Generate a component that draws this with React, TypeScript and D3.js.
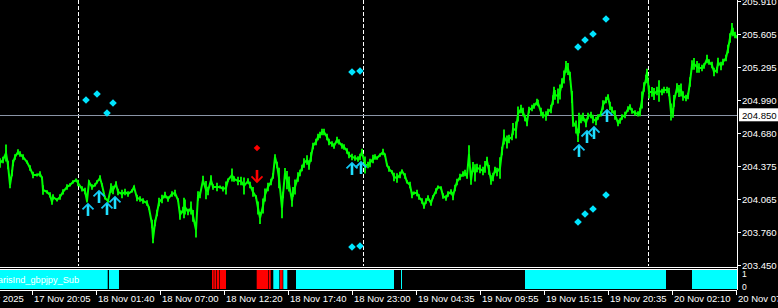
import React from "react";
import * as d3 from "d3";

const W = 778;
const H = 308;

// price series (bar index -> close)
const priceBars = [
  0, 3, 6, 8, 10, 12, 13, 15, 18, 20, 23, 27, 30, 33, 37, 40, 42, 43, 47, 50, 52, 53, 57, 60, 63, 67, 70, 73, 76, 78,
  82, 85, 87, 89, 92, 95, 97, 100, 102, 105, 108, 111, 113, 116, 118, 122, 125, 128, 132, 134, 137, 140, 143, 147, 149,
  152, 153, 155, 157, 159, 162, 165, 168, 172, 175, 178, 180, 183, 184,
  185, 188, 191, 193, 196, 198, 200, 203, 206, 208, 211, 213, 217, 220, 223, 226, 228, 232, 234, 238, 241, 244, 248,
  250, 253, 256, 258, 260, 263, 265, 268, 271, 273, 275, 277, 279, 282, 283, 285, 287, 289, 292, 293, 295, 298, 300,
  302, 304, 307, 309, 311, 313, 316, 318, 320, 322, 324, 327, 329, 332, 334, 337, 339, 342, 344, 347, 349, 352, 355,
  358, 360, 362, 365, 368,
  370, 373, 375, 377, 380, 383, 385, 387, 389, 392, 394, 397, 400, 402, 405, 407, 410, 412, 414, 417, 419, 422, 424,
  426, 428, 431, 433, 436, 438, 441, 443, 446, 448, 451, 453, 455, 457, 460, 463, 465, 467, 469, 471, 473, 475, 477,
  480, 483, 485, 487, 489, 491, 493, 495, 497, 500, 502, 504, 507, 509, 512, 513, 516, 518, 521, 523, 525, 527, 529,
  532, 534, 537, 538, 541, 543, 546, 548, 551, 553, 554,
  555, 558, 560, 562, 564, 566, 568, 570, 572, 573, 576, 578, 579, 581, 583, 586, 588, 591, 593, 596, 598, 601, 603,
  606, 608, 610, 612, 615, 618, 620, 622, 625, 628, 630, 632, 635, 638, 640, 642, 644, 646, 647, 649, 652, 654, 657,
  659, 662, 664, 667, 669, 671, 673, 674, 677, 679, 681, 683, 686, 688, 690, 692, 694, 697, 699, 702, 704, 707, 709,
  712, 714, 717, 718, 721, 723, 726, 728, 730, 732, 733, 735, 737,
];
const priceValues = [
  204.401, 204.429, 204.494, 204.382, 204.196, 204.308, 204.401, 204.457, 204.503, 204.485, 204.457, 204.41, 204.354,
  204.289, 204.289, 204.298, 204.261, 204.149, 204.131, 204.103, 204.037, 204.084, 204.056, 204.084, 204.131, 204.177,
  204.196, 204.224, 204.242, 204.214, 204.159, 204.14, 204.047, 204.224, 204.177, 204.196, 204.224, 204.261, 204.196,
  204.075, 204.047, 204.168, 204.149, 204.205, 204.131, 204.112, 204.131, 204.112, 204.14, 204.177, 204.075, 204.065,
  204.047, 204.028, 203.981, 203.832, 203.693, 203.842, 203.935, 204.037, 204.065, 204.103, 204.065, 204.112, 204.121,
  204.056, 203.916, 203.963, 203.981,
  203.991, 203.944, 203.981, 203.907, 203.776, 204.093, 204.103, 204.242, 204.149, 204.14, 204.242, 204.177, 204.177,
  204.177, 204.159, 204.168, 204.242, 204.289, 204.252, 204.233, 204.233, 204.186, 204.233, 204.196, 204.131, 204.084,
  203.981, 203.888, 204.0, 204.103, 204.177, 204.224, 204.28, 204.457, 204.382, 204.261, 203.981, 204.103, 204.308,
  204.242, 204.205, 204.047, 204.131, 204.177, 204.27, 204.308, 204.354, 204.401, 204.429, 204.382, 204.457, 204.559,
  204.597, 204.643, 204.662, 204.69, 204.69, 204.643, 204.597, 204.578, 204.559, 204.615, 204.597, 204.559, 204.55,
  204.513, 204.475, 204.457, 204.447, 204.438, 204.457, 204.503, 204.382, 204.382,
  204.401, 204.438, 204.457, 204.447, 204.475, 204.503, 204.475, 204.382, 204.345, 204.317, 204.27, 204.261, 204.289,
  204.326, 204.28, 204.224, 204.196, 204.103, 204.121, 204.121, 204.084, 204.047, 204.0, 204.047, 204.075, 204.028,
  204.084, 204.14, 204.177, 204.168, 204.093, 204.075, 204.112, 204.131, 204.093, 204.168, 204.224, 204.27, 204.298,
  204.308, 204.28, 204.485, 204.242, 204.364, 204.308, 204.354, 204.345, 204.326, 204.364, 204.419, 204.336, 204.242,
  204.27, 204.336, 204.317, 204.354, 204.513, 204.643, 204.597, 204.625, 204.643, 204.718, 204.708, 204.858, 204.904,
  204.876, 204.82, 204.783, 204.895, 204.913, 204.932, 204.969, 204.96, 204.876, 204.848, 204.839, 204.876, 204.904,
  204.988, 205.072,
  205.035, 205.025, 205.063, 205.146, 205.202, 205.296, 205.277, 205.212, 205.016, 204.783, 204.736, 204.652, 204.774,
  204.811, 204.83, 204.774, 204.839, 204.848, 204.811, 204.792, 204.83, 204.858, 204.941, 204.988, 205.016, 204.932,
  204.895, 204.848, 204.774, 204.792, 204.83, 204.848, 204.904, 204.923, 204.885, 204.867, 204.858, 204.876, 204.988,
  205.109, 205.184, 205.249, 205.063, 205.063, 205.044, 205.072, 205.072, 205.063, 205.081, 205.081, 205.063, 204.876,
  204.867, 204.979, 205.1, 205.072, 205.081, 205.025, 205.007, 205.025, 205.156, 205.314, 205.324, 205.296, 205.286,
  205.286, 205.305, 205.37, 205.342, 205.314, 205.249, 205.268, 205.342, 205.305, 205.342, 205.379, 205.463, 205.566,
  205.65, 205.622, 205.594, 205.575,
];
// high-low spread seen around each sampled close
const priceSpread = [
  0.09, 0.06, 0.16, 0.08, 0.06, 0.06, 0.06, 0.05, 0.05, 0.05, 0.05, 0.03, 0.05, 0.06, 0.03, 0.05, 0.03, 0.09, 0.03,
  0.05, 0.05, 0.05, 0.03, 0.05, 0.05, 0.05, 0.03, 0.03, 0.03, 0.06, 0.05, 0.06, 0.03, 0.03, 0.05, 0.03, 0.03, 0.05,
  0.03, 0.03, 0.03, 0.09, 0.08, 0.05, 0.06, 0.08, 0.06, 0.05, 0.03, 0.03, 0.06, 0.05, 0.05, 0.05, 0.03, 0.08, 0.08,
  0.06, 0.06, 0.08, 0.08, 0.06, 0.05, 0.05, 0.06, 0.03, 0.09, 0.06, 0.19,
  0.14, 0.06, 0.12, 0.11, 0.14, 0.09, 0.06, 0.08, 0.17, 0.08, 0.09, 0.05, 0.08, 0.03, 0.05, 0.12, 0.03, 0.12, 0.05,
  0.08, 0.08, 0.16, 0.05, 0.06, 0.09, 0.03, 0.12, 0.11, 0.14, 0.12, 0.08, 0.06, 0.05, 0.05, 0.06, 0.19, 0.19, 0.06,
  0.09, 0.17, 0.14, 0.11, 0.09, 0.14, 0.09, 0.06, 0.06, 0.09, 0.09, 0.09, 0.09, 0.06, 0.06, 0.06, 0.06, 0.06, 0.06,
  0.06, 0.06, 0.05, 0.05, 0.06, 0.05, 0.05, 0.05, 0.05, 0.06, 0.06, 0.05, 0.05, 0.06, 0.06, 0.16, 0.06,
  0.08, 0.08, 0.05, 0.03, 0.03, 0.06, 0.03, 0.03, 0.05, 0.03, 0.08, 0.09, 0.06, 0.03, 0.05, 0.03, 0.06, 0.06, 0.03,
  0.06, 0.05, 0.05, 0.05, 0.05, 0.05, 0.05, 0.03, 0.05, 0.03, 0.03, 0.05, 0.05, 0.05, 0.05, 0.08, 0.06, 0.06, 0.06,
  0.05, 0.06, 0.05, 0.16, 0.09, 0.09, 0.16, 0.08, 0.08, 0.08, 0.11, 0.08, 0.09, 0.09, 0.08, 0.06, 0.08, 0.2, 0.08,
  0.14, 0.12, 0.08, 0.06, 0.11, 0.16, 0.14, 0.08, 0.08, 0.06, 0.08, 0.06, 0.06, 0.05, 0.06, 0.06, 0.08, 0.06, 0.09,
  0.06, 0.08, 0.09, 0.08,
  0.09, 0.14, 0.14, 0.09, 0.12, 0.11, 0.11, 0.08, 0.11, 0.09, 0.12, 0.11, 0.19, 0.08, 0.08, 0.08, 0.06, 0.06, 0.08,
  0.08, 0.05, 0.05, 0.09, 0.06, 0.05, 0.08, 0.06, 0.09, 0.06, 0.05, 0.05, 0.06, 0.05, 0.05, 0.05, 0.05, 0.05, 0.08,
  0.16, 0.09, 0.08, 0.06, 0.12, 0.09, 0.11, 0.08, 0.2, 0.06, 0.06, 0.06, 0.08, 0.16, 0.09, 0.11, 0.09, 0.11, 0.12,
  0.09, 0.06, 0.06, 0.09, 0.09, 0.11, 0.11, 0.09, 0.06, 0.05, 0.08, 0.05, 0.06, 0.08, 0.06, 0.08, 0.08, 0.06, 0.06,
  0.08, 0.09, 0.11, 0.08, 0.06, 0.03,
];

const yTickValues = [203.45, 203.76, 204.065, 204.375, 204.68, 204.99, 205.295, 205.605, 205.91];
const bidPrice = 204.85;
const separatorBars = [78, 363, 648];

const timeTickBars = [-32, 32, 96, 160, 224, 288, 352, 416, 480, 544, 608, 672, 736];
const timeTickLabels = [
  "17 Nov 2025",
  "17 Nov 20:05",
  "18 Nov 01:40",
  "18 Nov 07:00",
  "18 Nov 12:20",
  "18 Nov 17:40",
  "18 Nov 23:00",
  "19 Nov 04:35",
  "19 Nov 09:55",
  "19 Nov 15:15",
  "19 Nov 20:35",
  "20 Nov 02:10",
  "20 Nov 07:30",
];

const upArrowBars = [88, 99, 107, 115, 352, 361, 579, 587, 594, 607];
const upArrowPrices = [204.019, 204.14, 204.028, 204.084, 204.401, 204.41, 204.569, 204.699, 204.736, 204.895];
const downArrowBars = [257];
const downArrowPrices = [204.224];

const cyanDiamondBars = [86, 97, 113, 107, 352, 360, 578, 585, 593, 606, 352, 360, 578, 585, 593, 606];
const cyanDiamondPrices = [
  204.988, 205.044, 204.96, 204.867, 205.249, 205.258, 205.482, 205.547, 205.603, 205.743, 203.618, 203.627, 203.851,
  203.926, 203.972, 204.103,
];
const redDiamondBars = [257];
const redDiamondPrices = [204.541];

// sub-window signal segments
const subSegStart = [0, 109, 212, 214.3, 217, 220, 256.7, 269, 273.3, 280, 283.3, 296, 401, 525, 692];
const subSegEnd = [107.7, 119, 213.7, 216.3, 219.3, 226, 268.3, 270.7, 279.3, 282.7, 287.3, 394, 402, 666, 737];
const subSegState = ["up", "up", "dn", "dn", "dn", "dn", "dn", "dn", "up", "dn", "up", "up", "up", "up", "up"];
const subTickValues = [1, 0];
const subName = "arisInd_gbpjpy_Sub";

const FONT = "'Liberation Sans', Arial, sans-serif";

export default function App() {
  const plotRight = 737;
  const x = d3.scaleLinear().domain([0, 737]).range([0, plotRight]);
  const y = d3.scaleLinear().domain([203.45, 205.92]).range([265, 0]);
  const ySub = d3.scaleLinear().domain([0, 1]).range([289, 270]);

  const pts: [number, number][] = priceBars.map((b, i) => [b, priceValues[i]]);
  const line = d3
    .line<[number, number]>()
    .x((d) => x(d[0]))
    .y((d) => y(d[1]))
    .curve(d3.curveLinear);

  const bandPath = priceBars
    .map((b, i) => {
      const s = (priceSpread[i] ?? 0.05) / 2;
      const xx = x(b);
      return `M${xx},${y(priceValues[i] + s)}L${xx},${y(priceValues[i] - s)}`;
    })
    .join("");

  const diamond = (cx: number, cy: number, r: number) =>
    `M${cx},${cy - r} L${cx + r},${cy} L${cx},${cy + r} L${cx - r},${cy} Z`;

  return (
    <svg
      width={W}
      height={H}
      style={{ position: "absolute", left: 0, top: 0, display: "block", background: "#000" }}
      fontFamily={FONT}
    >
      <rect x={0} y={0} width={W} height={H} fill="#000" />
      <defs>
        <clipPath id="mainClip">
          <rect x={0} y={0} width={plotRight} height={266} />
        </clipPath>
        <clipPath id="subClip">
          <rect x={0} y={270} width={plotRight} height={20} />
        </clipPath>
      </defs>

      {/* period separators */}
      {separatorBars.map((b, i) => (
        <line
          key={"sep" + i}
          x1={x(b) + 0.5}
          x2={x(b) + 0.5}
          y1={0}
          y2={266}
          stroke="#fff"
          strokeWidth={1}
          strokeDasharray="4,2"
        />
      ))}

      {/* bid line */}
      <line
        x1={0}
        x2={plotRight}
        y1={Math.round(y(bidPrice)) + 0.5}
        y2={Math.round(y(bidPrice)) + 0.5}
        stroke="#8a94a6"
        strokeWidth={1}
      />

      <g clipPath="url(#mainClip)">
        <path d={bandPath} fill="none" stroke="#00ff00" strokeWidth={1.8} />
        <path d={line(pts) || ""} fill="none" stroke="#00ff00" strokeWidth={2} strokeLinejoin="miter" />

        {cyanDiamondBars.map((b, i) => (
          <path key={"cd" + i} d={diamond(x(b), y(cyanDiamondPrices[i]), 3.8)} fill="#00e5ff" />
        ))}
        {redDiamondBars.map((b, i) => (
          <path key={"rd" + i} d={diamond(x(b), y(redDiamondPrices[i]), 3.3)} fill="#ff0000" />
        ))}
        {upArrowBars.map((b, i) => {
          const cx = x(b);
          const ty = y(upArrowPrices[i]);
          return (
            <g key={"ua" + i} stroke="#12c8f5" fill="none">
              <line x1={cx} x2={cx} y1={ty + 1} y2={ty + 12} strokeWidth={2.6} stroke="#20e0ff" />
              <path d={`M${cx - 5.5},${ty + 5.5} L${cx},${ty} L${cx + 5.5},${ty + 5.5}`} strokeWidth={1.8} />
            </g>
          );
        })}
        {downArrowBars.map((b, i) => {
          const cx = x(b);
          const ty = y(downArrowPrices[i]);
          return (
            <g key={"da" + i} stroke="#ff0000" fill="none">
              <line x1={cx} x2={cx} y1={ty - 12} y2={ty - 1} strokeWidth={2.6} />
              <path d={`M${cx - 5.5},${ty - 5.5} L${cx},${ty} L${cx + 5.5},${ty - 5.5}`} strokeWidth={1.8} />
            </g>
          );
        })}
      </g>

      {/* window borders */}
      <line x1={0} x2={plotRight} y1={267.5} y2={267.5} stroke="#fff" />
      <line x1={0} x2={plotRight} y1={269.5} y2={269.5} stroke="#fff" />
      <line x1={0} x2={plotRight} y1={290.5} y2={290.5} stroke="#fff" />
      <line x1={plotRight + 0.5} x2={plotRight + 0.5} y1={0} y2={290} stroke="#fff" />

      {/* sub window */}
      <g clipPath="url(#subClip)">
        {subSegStart.map((s, i) => (
          <rect
            key={"ss" + i}
            x={x(s)}
            y={ySub(1)}
            width={x(subSegEnd[i]) - x(s)}
            height={ySub(0) - ySub(1)}
            fill={subSegState[i] === "up" ? "#00ffff" : "#ff0000"}
          />
        ))}
        <text x={79} y={283} textAnchor="end" fill="#ffffff" fontSize={9.2}>
          {subName}
        </text>
      </g>
      {subTickValues.map((v, i) => (
        <text key={"st" + i} x={742} y={ySub(v) + (v === 1 ? 7 : 1)} fill="#fff" fontSize={8.5}>
          {v}
        </text>
      ))}

      {/* price axis */}
      {yTickValues.map((v, i) => (
        <g key={"yt" + i}>
          <line
            x1={plotRight}
            x2={plotRight + 4}
            y1={Math.round(y(v)) + 0.5}
            y2={Math.round(y(v)) + 0.5}
            stroke="#fff"
          />
          <text x={742} y={y(v) + 4} fill="#fff" fontSize={9.6}>
            {v.toFixed(3)}
          </text>
        </g>
      ))}
      <rect x={739} y={y(bidPrice) - 6.5} width={W - 739} height={13} fill="#fff" />
      <text x={742} y={y(bidPrice) + 4} fill="#000" fontSize={9.6}>
        {bidPrice.toFixed(3)}
      </text>

      {/* time axis */}
      {timeTickBars.map((b, i) => (
        <g key={"tt" + i}>
          <line x1={x(b) + 0.5} x2={x(b) + 0.5} y1={291} y2={295} stroke="#fff" />
          <text x={x(b) + 2} y={302} fill="#fff" fontSize={9.5}>
            {timeTickLabels[i]}
          </text>
        </g>
      ))}
    </svg>
  );
}
